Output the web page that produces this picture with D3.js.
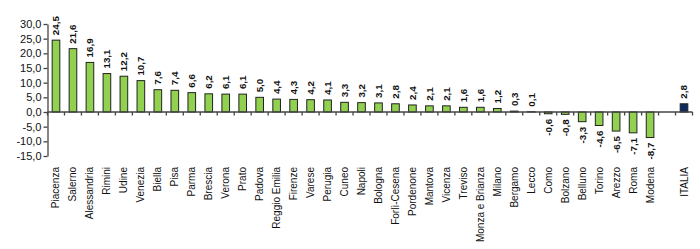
<!DOCTYPE html>
<html>
<head>
<meta charset="utf-8">
<script src="https://cdn.jsdelivr.net/npm/d3@7"></script>
<style>
  html, body { margin: 0; padding: 0; background: #fff; }
  svg { display: block; }
  text { font-family: "Liberation Sans", Arial, sans-serif; fill: #111; }
</style>
</head>
<body>
<svg id="chart" width="700" height="249"></svg>
<script>
const categories = ["Piacenza","Salerno","Alessandria","Rimini","Udine","Venezia","Biella","Pisa","Parma","Brescia","Verona","Prato","Padova","Reggio Emilia","Firenze","Varese","Perugia","Cuneo","Napoli","Bologna","Forlì-Cesena","Pordenone","Mantova","Vicenza","Treviso","Monza e Brianza","Milano","Bergamo","Lecco","Como","Bolzano","Belluno","Torino","Arezzo","Roma","Modena"," ","ITALIA"];
const values = [24.5,21.6,16.9,13.1,12.2,10.7,7.6,7.4,6.6,6.2,6.1,6.1,5.0,4.4,4.3,4.2,4.1,3.3,3.2,3.1,2.8,2.4,2.1,2.1,1.6,1.6,1.2,0.3,0.1,-0.6,-0.8,-3.3,-4.6,-6.5,-7.1,-8.7,null,2.8];
const yTicks = [-15,-10,-5,0,5,10,15,20,25,30];

(function () {
const fmt = d => d.toFixed(1).replace('.', ',');
const data = categories.map((c, i) => ({c, v: values[i]}));

const svg = d3.select("#chart");
const mLeft = 47.5, mRight = 692.5, mTop = 24, mBottom = 156;

const x = d3.scaleBand().domain(categories).range([mLeft, mRight]).paddingInner(0.55).paddingOuter(0.275);
const slot = d3.scaleBand().domain(categories).range([mLeft, mRight]).padding(0);
const y = d3.scaleLinear().domain([-15, 30]).range([mBottom, mTop]);

// y axis
const yAxis = d3.axisLeft(y).tickValues(yTicks).tickFormat(fmt).tickSize(4).tickSizeOuter(0);
const gy = svg.append("g").attr("transform", `translate(${mLeft},0)`).call(yAxis);
gy.select(".domain").attr("stroke", "#444").attr("stroke-width", 1.3);
gy.selectAll(".tick line").attr("stroke", "#444").attr("stroke-width", 1.3);
gy.selectAll(".tick text").attr("font-size", 11).attr("fill", "#111").attr("x", -6)
  .style("font-family", '"Liberation Sans", Arial, sans-serif');

// bars
svg.append("g").selectAll("rect").data(data.filter(d => d.v !== null)).join("rect")
  .attr("x", d => x(d.c))
  .attr("width", x.bandwidth())
  .attr("y", d => y(Math.max(0, d.v)))
  .attr("height", d => Math.abs(y(d.v) - y(0)))
  .attr("fill", d => d.c === "ITALIA" ? "#0d2a60" : "#92d050")
  .attr("stroke", "#222")
  .attr("stroke-width", 1);

// x axis line at zero
const y0 = y(0);
svg.append("line").attr("x1", mLeft).attr("x2", mRight).attr("y1", y0).attr("y2", y0)
  .attr("stroke", "#444").attr("stroke-width", 1.3);
const boundaries = categories.map(c => slot(c)).concat([slot(categories[categories.length-1]) + slot.bandwidth()]);
svg.append("g").selectAll("line").data(boundaries).join("line")
  .attr("x1", d => d).attr("x2", d => d).attr("y1", y0).attr("y2", y0 + 3.5)
  .attr("stroke", "#444").attr("stroke-width", 1.3);

// value labels
svg.append("g").selectAll("text").data(data.filter(d => d.v !== null)).join("text")
  .attr("transform", d => {
    const cx = x(d.c) + x.bandwidth() / 2;
    const yy = d.v >= 0 ? y(d.v) - 5 : y(d.v) + 5;
    return `translate(${cx},${yy}) rotate(-90)`;
  })
  .attr("text-anchor", d => d.v >= 0 ? "start" : "end")
  .attr("dy", "0.35em")
  .attr("font-size", 9.8)
  .attr("font-weight", "bold")
  .text(d => fmt(d.v));

// category labels
svg.append("g").selectAll("text").data(data.filter(d => d.c.trim() !== "")).join("text")
  .attr("transform", d => `translate(${slot(d.c) + slot.bandwidth() / 2},167) rotate(-90)`)
  .attr("text-anchor", "end")
  .attr("dy", "0.35em")
  .attr("font-size", 10)
  .text(d => d.c);
})();
</script>
</body>
</html>
